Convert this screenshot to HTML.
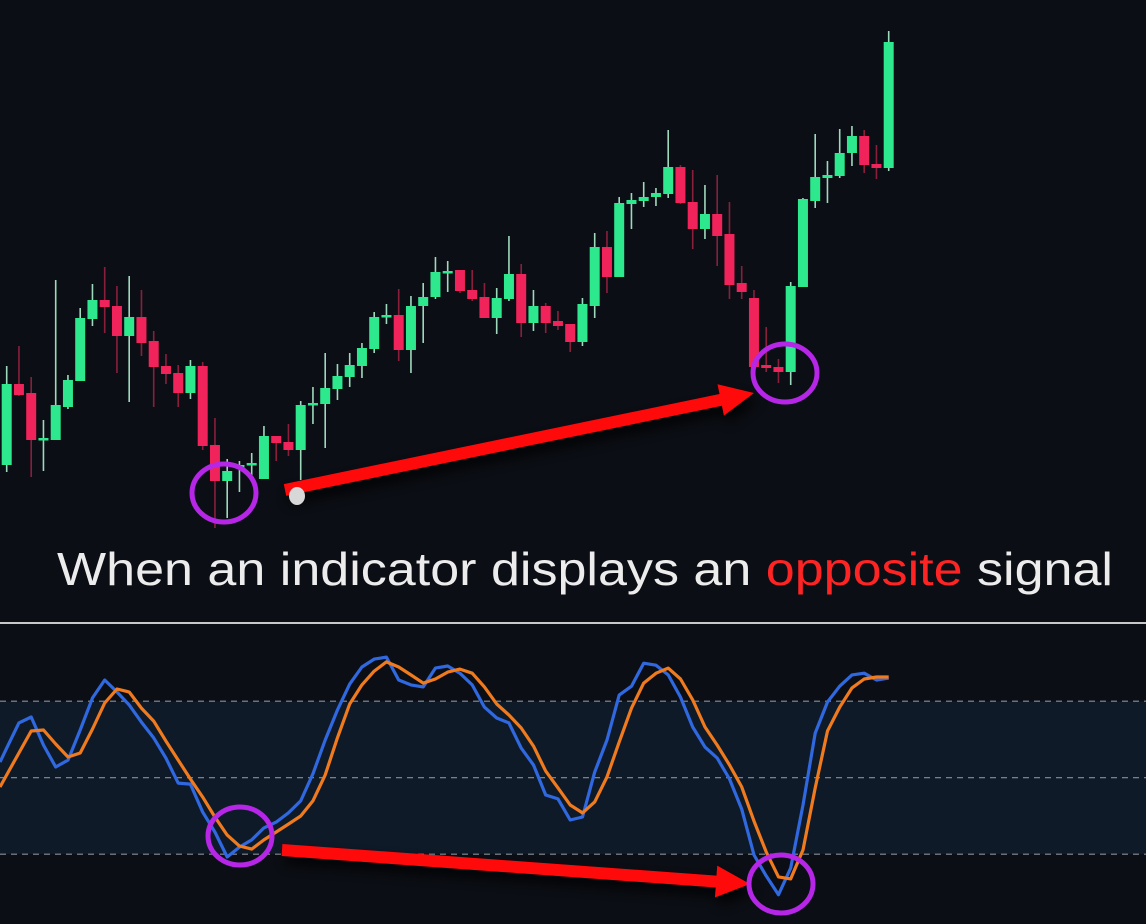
<!DOCTYPE html>
<html><head><meta charset="utf-8">
<style>
html,body{margin:0;padding:0;background:#0b0e14;}
svg{display:block;}
</style></head>
<body>
<svg id="chart" width="1146" height="924" viewBox="0 0 1146 924" xmlns="http://www.w3.org/2000/svg">
  <defs>
    <filter id="shadow" x="-20%" y="-50%" width="140%" height="200%"><feGaussianBlur stdDeviation="6"/></filter>
  </defs>
  <rect x="0" y="0" width="1146" height="924" fill="#0b0e14"/>
  <g id="candles"></g>
  <text x="57" y="585" font-family="Liberation Sans, sans-serif" font-size="46" fill="#ececec" textLength="1056" lengthAdjust="spacingAndGlyphs">When an indicator displays an <tspan fill="#ff2424">opposite</tspan> signal</text>
  <rect x="0" y="622" width="1146" height="2" fill="#c8c8c8"/>
  <g id="osc"></g>
  <g id="annot"></g>
</svg>
<script>
// ---- price data (candles) ----
const opens  = [35,116,107,60,60,93,119,181,200,194,164,183,159,134,127,107,134,55,19,32,36,21,64,58,50,95,96,111,123,134,151,183,185,150,194,203,227,230,210,203,182,201,226,177,194,179,176,158,194,253,223,296,299,303,306,333,298,271,286,266,217,202,135,133,128,213,299,322,324,347,364,336,332];
const highs  = [134,154,123,80,220,125,192,216,233,214,224,210,169,146,135,140,138,82,41,39,47,74,64,76,99,113,147,136,147,157,188,196,211,204,217,243,239,230,230,217,212,264,236,210,197,189,176,202,267,269,303,307,318,312,370,335,330,315,325,298,234,210,173,141,218,302,366,339,371,374,370,355,469];
const lows   = [28,104,23,29,60,91,119,174,167,127,98,144,93,116,93,101,50,-28,-18,8,23,21,39,44,20,76,52,100,113,122,147,176,139,127,157,201,208,207,199,182,166,199,163,169,167,170,148,154,182,207,223,271,293,294,302,296,251,261,234,201,201,133,128,117,115,213,292,297,322,334,327,321,329];
const closes = [116,105,60,62,95,120,182,200,193,164,183,157,133,126,107,134,54,19,29,35,37,64,57,50,95,97,112,124,135,152,183,185,150,194,203,228,229,209,201,182,202,226,177,194,177,174,158,196,253,223,297,300,303,307,333,297,271,286,264,215,208,133,132,128,214,301,323,325,347,364,335,332,458];
// ---- oscillator data ----
const kValues = [61.6,71.5,73.8,62.8,54.2,56.9,68.7,81.3,88.3,83.6,78.5,71.8,65.6,57.7,47.9,47.5,36.5,28.7,18.9,22.8,25.6,30.3,32.6,36.2,40.9,51.5,64.8,76.5,86.7,93.4,96.5,97.3,88.3,86.4,85.6,93.0,93.8,91.0,86.4,77.7,73.4,71.5,61.6,55.0,43.2,41.7,33.4,34.6,52.2,64.8,82.4,85.9,94.9,94.1,90.3,81.6,69.9,62.0,57.7,49.5,37.7,19.7,11.5,4.1,14.6,39.3,67.5,79.7,85.9,90.3,91.0,88.3,89.1];
const dValues = [51.1,59.7,68.3,68.7,63.2,58.1,59.7,69.1,79.3,84.8,83.6,77.3,72.2,64.4,56.9,49.5,42.4,34.6,27.5,23.2,22.0,25.6,28.7,31.8,35.0,40.9,51.1,65.6,78.9,86.4,91.8,95.4,93.4,90.3,87.1,88.7,91.4,92.6,91.0,85.6,78.9,74.6,69.5,62.4,52.6,46.0,39.3,36.2,40.5,50.3,64.0,77.3,87.1,91.0,93.0,88.7,80.5,69.9,62.8,55.0,46.4,33.0,20.9,11.1,10.3,21.7,46.0,68.3,77.7,85.2,88.7,89.5,89.5];
const levelValues = [80,50,20];

const NS = 'http://www.w3.org/2000/svg';
function mk(tag, attrs, parent){const e=document.createElementNS(NS,tag);for(const k in attrs)e.setAttribute(k,attrs[k]);parent.appendChild(e);return e;}
function xScale(i){return 6.7 + i*12.25;}
function yPrice(p){return 500 - p;}
function yOsc(v){return 777.7 - (v-50)*2.55;}

// candles
const cg = document.getElementById('candles');
for(let i=0;i<opens.length;i++){
  const up = closes[i] >= opens[i];
  const x = xScale(i);
  const g = mk('g',{},cg);
  
  
  const w = mk('line',{x1:x,x2:x,y1:yPrice(highs[i]),y2:yPrice(lows[i]),stroke: up?'#9fd9bd':'#8a1f3c','stroke-width':1.6},g);
  
  
  const top = yPrice(Math.max(opens[i],closes[i]));
  const bot = yPrice(Math.min(opens[i],closes[i]));
  const b = mk('rect',{x:x-5,y:top,width:10,height:Math.max(2.5,bot-top),fill: up?'#2ee88e':'#f0245a'},g);
  
  
}

// oscillator pane
const og = document.getElementById('osc');
const band = mk('rect',{x:0,y:yOsc(levelValues[0]),width:1146,height:yOsc(levelValues[2])-yOsc(levelValues[0]),fill:'#0e1a28'},og);


levelValues.forEach(v=>{
  const l = mk('line',{x1:0,x2:1146,y1:yOsc(v),y2:yOsc(v),stroke:'#8a8f98','stroke-width':1.2,'stroke-dasharray':'6 5'},og);
  
  
});
function linePath(vals){
  let d='M0,'+yOsc(vals[0]-(vals[1]-vals[0])*0.55).toFixed(1);
  vals.forEach((v,i)=>{d+=' L'+xScale(i).toFixed(1)+','+yOsc(v).toFixed(1);});
  return d;
}
const kp = mk('path',{d:linePath(kValues),fill:'none',stroke:'#3068e0','stroke-width':3.2,'stroke-linejoin':'round'},og);


const dp = mk('path',{d:linePath(dValues),fill:'none',stroke:'#f07a1e','stroke-width':3.2,'stroke-linejoin':'round'},og);



// annotations
const ag = document.getElementById('annot');
function arrow(x1,y1,x2,y2,name){
  const g = mk('g',{},ag);
  
  
  const ang = Math.atan2(y2-y1,x2-x1);
  const ux=Math.cos(ang), uy=Math.sin(ang), px=-uy, py=ux;
  const hl=34, hw=16, sw=6;
  const bx=x2-ux*hl, by=y2-uy*hl;
  const pts=[[x1+px*sw,y1+py*sw],[bx+px*sw,by+py*sw],[bx+px*hw,by+py*hw],[x2,y2],[bx-px*hw,by-py*hw],[bx-px*sw,by-py*sw],[x1-px*sw,y1-py*sw]];
  const s = pts.map(p=>p[0].toFixed(1)+','+p[1].toFixed(1)).join(' ');
  mk('polygon',{points:pts.map(p=>(p[0]+4).toFixed(1)+','+(p[1]+8).toFixed(1)).join(' '),fill:'#000',opacity:0.8,filter:'url(#shadow)'},g);
  mk('polygon',{points:s,fill:'#ff0a0a'},g);
}
arrow(285,490,754,393,'price-trend-arrow');
arrow(282,850,750,884,'indicator-trend-arrow');
const blob = mk('ellipse',{cx:297,cy:496,rx:8,ry:9,fill:'#d8d8d8'},ag);


[[224,493,'price-low-circle'],[785,373,'price-higher-low-circle'],[240,836,'indicator-low-circle'],[781,884,'indicator-lower-low-circle']].forEach(c=>{
  const e = mk('ellipse',{cx:c[0],cy:c[1],rx:32,ry:29,fill:'none',stroke:'#b526e6','stroke-width':5},ag);
  
  
});
</script>
</body></html>
